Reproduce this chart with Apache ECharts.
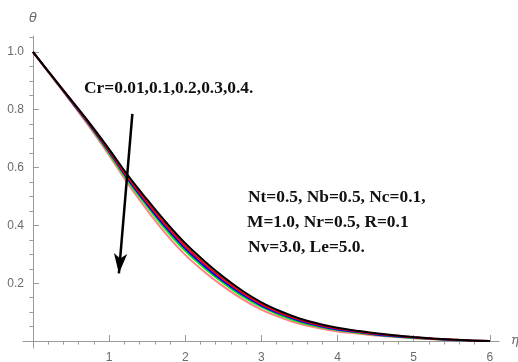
<!DOCTYPE html>
<html>
<head>
<meta charset="utf-8">
<script src="https://cdn.jsdelivr.net/npm/echarts@6/dist/echarts.min.js"></script>
<style>
  html, body { margin: 0; padding: 0; background: #fff; }
  #chart { width: 518px; height: 362px; }
</style>
</head>
<body>
<div id="chart"></div>
<script>
// Similarity variable eta and temperature profiles theta(eta) for each Cr
const eta = [0, 0.25, 0.5, 0.75, 1.0, 1.25, 1.5, 1.75, 2.0, 2.25, 2.5, 2.75, 3.0,
             3.25, 3.5, 3.75, 4.0, 4.25, 4.5, 4.75, 5.0, 5.25, 5.5, 5.75, 6.0];

const thetaCr001 = [1.000, 0.917, 0.835, 0.752, 0.664, 0.572, 0.489, 0.410, 0.338, 0.277, 0.222, 0.174, 0.134,
                    0.103, 0.078, 0.060, 0.046, 0.036, 0.027, 0.020, 0.014, 0.009, 0.005, 0.002, 0.000];
const thetaCr01  = [1.000, 0.916, 0.833, 0.749, 0.659, 0.565, 0.480, 0.400, 0.328, 0.268, 0.214, 0.167, 0.128,
                    0.098, 0.074, 0.056, 0.043, 0.034, 0.025, 0.019, 0.013, 0.008, 0.005, 0.002, 0.000];
const thetaCr02  = [1.000, 0.916, 0.831, 0.746, 0.655, 0.559, 0.473, 0.392, 0.320, 0.260, 0.207, 0.161, 0.123,
                    0.094, 0.070, 0.053, 0.040, 0.032, 0.023, 0.017, 0.012, 0.008, 0.004, 0.002, 0.000];
const thetaCr03  = [1.000, 0.915, 0.830, 0.743, 0.650, 0.553, 0.466, 0.384, 0.312, 0.253, 0.201, 0.155, 0.118,
                    0.089, 0.066, 0.050, 0.038, 0.030, 0.022, 0.016, 0.011, 0.007, 0.004, 0.001, 0.000];
const thetaCr04  = [1.000, 0.914, 0.827, 0.738, 0.643, 0.543, 0.453, 0.370, 0.298, 0.240, 0.189, 0.145, 0.109,
                    0.082, 0.060, 0.045, 0.033, 0.026, 0.019, 0.014, 0.010, 0.006, 0.003, 0.001, 0.000];

// Tick positions
const xMajorTicks = [1, 2, 3, 4, 5, 6];
const xMinorTicks = [0.2, 0.4, 0.6, 0.8, 1.2, 1.4, 1.6, 1.8, 2.2, 2.4, 2.6, 2.8, 3.2, 3.4, 3.6, 3.8,
                     4.2, 4.4, 4.6, 4.8, 5.2, 5.4, 5.6, 5.8];
const yMajorTicks = [0.2, 0.4, 0.6, 0.8, 1.0];
const yMinorTicks = [0.05, 0.1, 0.15, 0.25, 0.3, 0.35, 0.45, 0.5, 0.55, 0.65, 0.7, 0.75,
                     0.85, 0.9, 0.95, 1.05];

// Arrow showing the direction of increasing Cr: [eta, theta] of tail and head
const arrowTail = [1.306, 0.786];
const arrowHead = [1.129, 0.234];

const X_MIN = -0.13, X_MAX = 6.12;
const Y_MIN = -0.024, Y_MAX = 1.055;
const AXIS_GRAY = '#9a9a9a';
const LABEL_GRAY = '#6a6a6a';

function toPairs(ys) { return eta.map((x, i) => [x, ys[i]]); }

function xAxisDef(idx, major) {
  return {
    type: 'value', gridIndex: 0, min: X_MIN, max: X_MAX,
    name: major ? 'η' : '', nameLocation: 'end', nameGap: 12,
    nameTextStyle: { fontStyle: 'italic', color: LABEL_GRAY, fontSize: 13, fontFamily: 'DejaVu Serif', verticalAlign: 'middle' },
    axisLine: { show: true, onZero: true, onZeroAxisIndex: idx,
                lineStyle: { color: AXIS_GRAY, width: 1, opacity: major ? 1 : 0 } },
    axisTick: { show: true, inside: true, length: major ? 6 : 3.5,
                customValues: major ? xMajorTicks : xMinorTicks,
                lineStyle: { color: AXIS_GRAY, width: 1 } },
    axisLabel: { show: major, customValues: xMajorTicks, margin: 4, color: LABEL_GRAY,
                 fontSize: 12, fontFamily: 'Liberation Sans', formatter: v => String(Math.round(v)) },
    splitLine: { show: false }
  };
}

function yAxisDef(idx, major) {
  return {
    type: 'value', gridIndex: 0, min: Y_MIN, max: Y_MAX,
    name: major ? 'θ' : '', nameLocation: 'end', nameGap: 11,
    nameTextStyle: { fontStyle: 'italic', color: LABEL_GRAY, fontSize: 13, fontFamily: 'DejaVu Sans' },
    axisLine: { show: true, onZero: true, onZeroAxisIndex: idx,
                lineStyle: { color: AXIS_GRAY, width: 1, opacity: major ? 1 : 0 } },
    axisTick: { show: true, inside: true, length: major ? 6 : 3.5,
                customValues: major ? yMajorTicks : yMinorTicks,
                lineStyle: { color: AXIS_GRAY, width: 1 } },
    axisLabel: { show: major, customValues: yMajorTicks, margin: -1, color: LABEL_GRAY,
                 fontSize: 12, fontFamily: 'Liberation Sans', formatter: v => v.toFixed(1) },
    splitLine: { show: false }
  };
}

function curve(name, ys, color) {
  return {
    name: name, type: 'line', xAxisIndex: 0, yAxisIndex: 0,
    data: toPairs(ys), showSymbol: false, smooth: 0.4,
    lineStyle: { color: color, width: 2 }, itemStyle: { color: color },
    z: 3
  };
}

const chart = echarts.init(document.getElementById('chart'), null, { renderer: 'canvas' });

const annotationFont = 'bold 17.4px "Liberation Serif", "Times New Roman", serif';

chart.setOption({
  animation: false,
  backgroundColor: '#ffffff',
  grid: { left: 23, right: 19, top: 36, bottom: 14, containLabel: false, outerBoundsMode: 'none' },
  xAxis: [xAxisDef(0, true), xAxisDef(1, false)],
  yAxis: [yAxisDef(0, true), yAxisDef(1, false)],
  series: [
    curve('Cr=0.4', thetaCr04, '#ff8080'),
    curve('Cr=0.3', thetaCr03, '#00ee00'),
    curve('Cr=0.2', thetaCr02, '#0000ff'),
    curve('Cr=0.1', thetaCr01, '#ff0000'),
    curve('Cr=0.01', thetaCr001, '#000000'),
    {
      type: 'line', xAxisIndex: 0, yAxisIndex: 0, data: [], z: 5,
      markLine: {
        silent: true, animation: false,
        symbol: ['none', 'arrow'], symbolSize: [10, 20],
        label: { show: false },
        lineStyle: { color: '#000', width: 2.5, type: 'solid' },
        data: [[{ coord: arrowTail }, { coord: arrowHead }]]
      }
    }
  ],
  graphic: [
    { type: 'text', left: 84, top: 80,
      style: { text: 'Cr=0.01,0.1,0.2,0.3,0.4.', font: annotationFont, fill: '#111' } },
    { type: 'text', left: 248, top: 189,
      style: { text: 'Nt=0.5, Nb=0.5, Nc=0.1,', font: annotationFont, fill: '#111' } },
    { type: 'text', left: 247, top: 214,
      style: { text: 'M=1.0, Nr=0.5, R=0.1', font: annotationFont, fill: '#111' } },
    { type: 'text', left: 248, top: 239,
      style: { text: 'Nv=3.0, Le=5.0.', font: annotationFont, fill: '#111' } }
  ]
});
</script>
</body>
</html>
